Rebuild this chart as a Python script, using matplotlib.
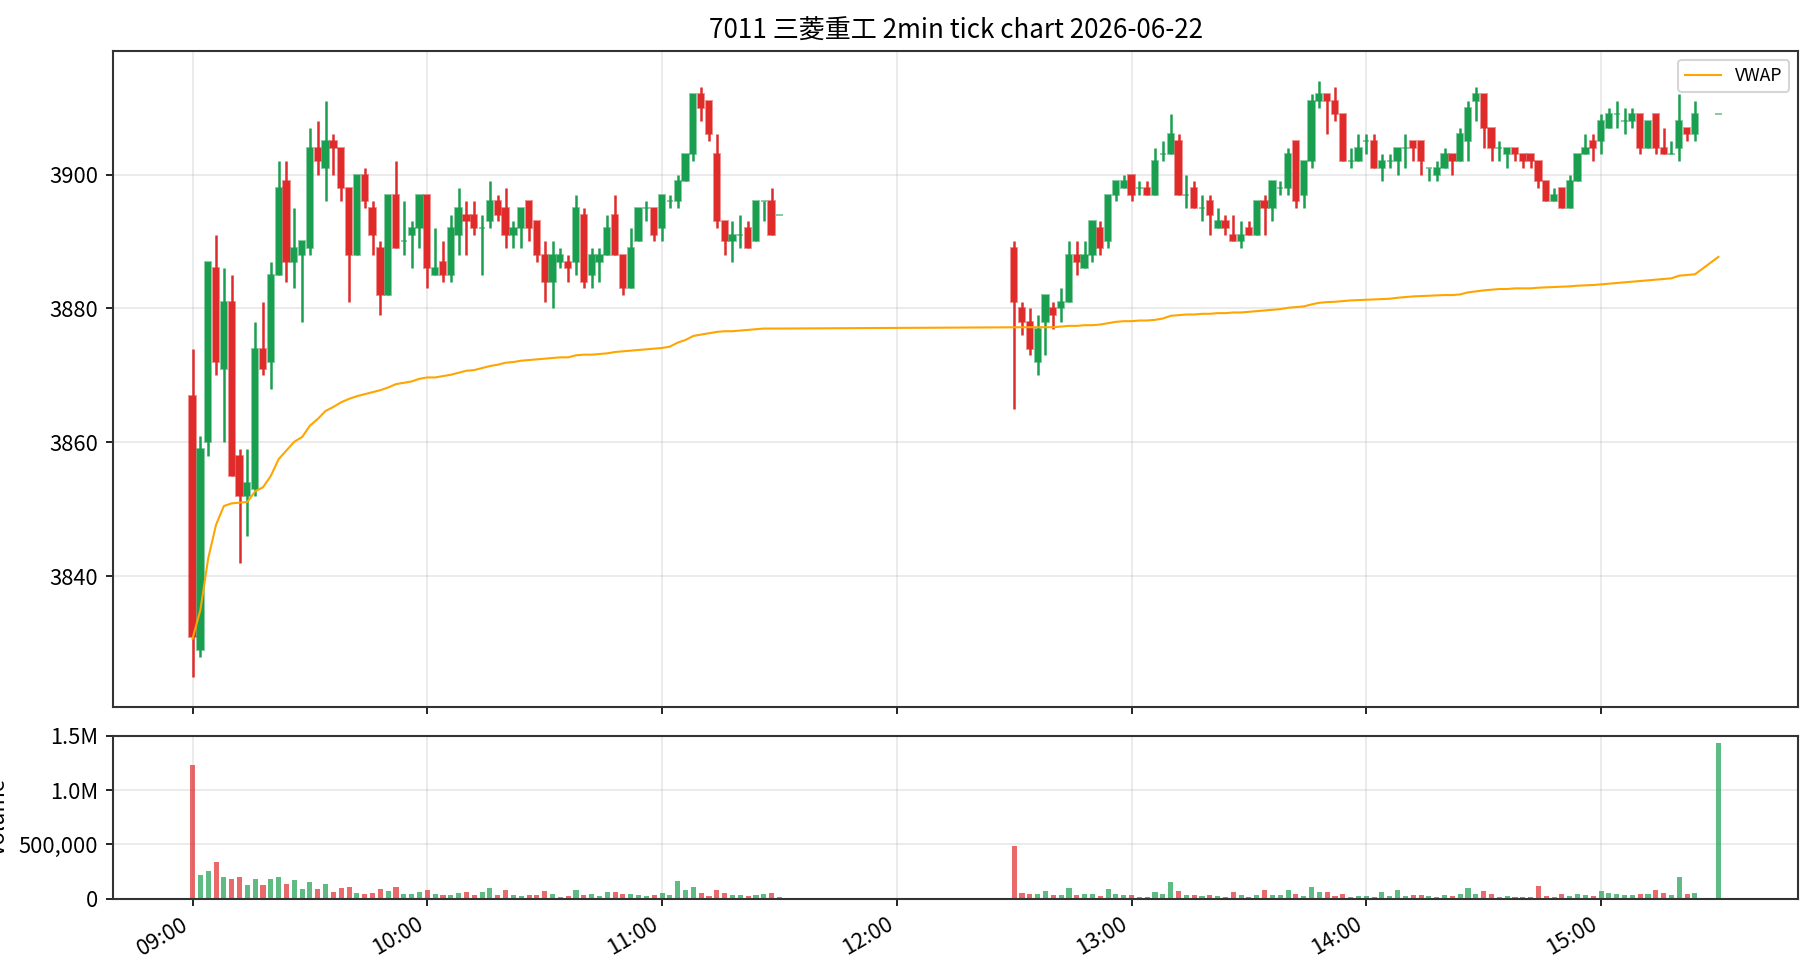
import matplotlib
matplotlib.use('Agg')
import matplotlib.pyplot as plt
import matplotlib.dates as mdates
import matplotlib.ticker as mticker
from matplotlib.colors import to_rgba
import numpy as np
import pandas as pd

plt.rcParams['font.family'] = ['Noto Sans CJK JP', 'DejaVu Sans']
plt.rcParams['xtick.labelsize'] = 10.5
plt.rcParams['ytick.labelsize'] = 10.5

TITLE = '7011 三菱重工 2min tick chart 2026-06-22'

# 2-minute bars: morning 09:00-11:30, afternoon 12:30-15:24, closing print 15:30
times = (list(pd.date_range('2026-06-22 09:00', '2026-06-22 11:30', freq='2min'))
         + list(pd.date_range('2026-06-22 12:30', '2026-06-22 15:24', freq='2min'))
         + [pd.Timestamp('2026-06-22 15:30')])

# morning session
am_open = [3867, 3829, 3860, 3886, 3871, 3881, 3858, 3852, 3853, 3874,
           3872, 3885, 3899, 3887, 3888, 3889, 3904, 3901, 3905, 3904,
           3898, 3888, 3900, 3895, 3889, 3882, 3897, 3890, 3891, 3892,
           3897, 3885, 3887, 3885, 3891, 3894, 3894, 3892, 3893, 3896,
           3895, 3891, 3892, 3896, 3893, 3888, 3884, 3887, 3887, 3887,
           3894, 3885, 3887, 3888, 3894, 3888, 3883, 3890, 3895, 3895,
           3892, 3896, 3896, 3899, 3903, 3912, 3911, 3903, 3893, 3890,
           3891, 3892, 3890, 3896, 3896, 3894]
am_high = [3874, 3861, 3887, 3891, 3886, 3885, 3859, 3859, 3878, 3881,
           3887, 3902, 3902, 3895, 3890, 3907, 3908, 3911, 3906, 3904,
           3898, 3900, 3901, 3896, 3890, 3897, 3902, 3896, 3893, 3897,
           3897, 3892, 3890, 3894, 3898, 3896, 3896, 3894, 3899, 3897,
           3898, 3893, 3895, 3896, 3893, 3890, 3890, 3889, 3888, 3897,
           3895, 3889, 3889, 3894, 3897, 3888, 3892, 3895, 3896, 3895,
           3897, 3897, 3900, 3903, 3912, 3913, 3911, 3906, 3893, 3893,
           3894, 3893, 3896, 3896, 3898, 3894]
am_low = [3825, 3828, 3858, 3870, 3860, 3855, 3842, 3846, 3852, 3870,
          3868, 3885, 3884, 3883, 3878, 3888, 3900, 3896, 3900, 3896,
          3881, 3888, 3895, 3888, 3879, 3882, 3889, 3888, 3886, 3889,
          3883, 3885, 3884, 3884, 3888, 3888, 3891, 3885, 3892, 3893,
          3889, 3889, 3889, 3890, 3887, 3881, 3880, 3886, 3884, 3885,
          3883, 3883, 3884, 3888, 3888, 3882, 3883, 3890, 3893, 3890,
          3890, 3895, 3895, 3899, 3902, 3908, 3905, 3892, 3888, 3887,
          3889, 3889, 3890, 3893, 3891, 3894]
am_close = [3831, 3859, 3887, 3872, 3881, 3855, 3852, 3854, 3874, 3871,
            3885, 3898, 3887, 3889, 3890, 3904, 3902, 3905, 3904, 3898,
            3888, 3900, 3896, 3891, 3882, 3897, 3889, 3890, 3892, 3897,
            3886, 3886, 3885, 3892, 3895, 3893, 3892, 3892, 3896, 3894,
            3891, 3892, 3895, 3892, 3888, 3884, 3888, 3888, 3886, 3895,
            3884, 3888, 3888, 3892, 3888, 3883, 3889, 3895, 3895, 3891,
            3897, 3896, 3899, 3903, 3912, 3910, 3906, 3893, 3890, 3891,
            3891, 3889, 3896, 3896, 3891, 3894]
am_volume = [1232, 216, 253, 335, 198, 180, 198, 125, 180, 125,
             180, 198, 134, 171, 88, 152, 88, 134, 61, 98,
             107, 52, 43, 52, 88, 70, 107, 43, 43, 61,
             79, 43, 34, 34, 52, 61, 34, 61, 98, 34,
             79, 34, 24, 34, 34, 70, 43, 15, 24, 79,
             34, 43, 24, 61, 61, 43, 43, 34, 24, 34,
             52, 34, 162, 79, 107, 52, 24, 79, 52, 34,
             34, 24, 34, 43, 52, 15]
am_vwap = [3830.7, 3835.0, 3842.7, 3847.7, 3850.5, 3850.9, 3851.0, 3851.1, 3852.7, 3853.3,
           3855.0, 3857.5, 3858.8, 3860.1, 3860.8, 3862.5, 3863.5, 3864.7, 3865.3, 3866.0,
           3866.5, 3866.9, 3867.2, 3867.5, 3867.8, 3868.2, 3868.7, 3868.9, 3869.1, 3869.5,
           3869.7, 3869.7, 3869.9, 3870.1, 3870.4, 3870.7, 3870.8, 3871.1, 3871.4, 3871.6,
           3871.9, 3872.0, 3872.2, 3872.3, 3872.4, 3872.5, 3872.6, 3872.7, 3872.7, 3873.0,
           3873.1, 3873.1, 3873.2, 3873.3, 3873.5, 3873.6, 3873.7, 3873.8, 3873.9, 3874.0,
           3874.1, 3874.3, 3874.9, 3875.3, 3875.9, 3876.1, 3876.3, 3876.5, 3876.6, 3876.6,
           3876.7, 3876.8, 3876.9, 3877.0, 3877.0, 3877.0]

# afternoon session (+ closing print)
pm_open = [3889, 3880, 3878, 3872, 3878, 3880, 3880, 3881, 3888, 3886,
           3888, 3892, 3890, 3897, 3898, 3900, 3898, 3898, 3897, 3903,
           3903, 3905, 3897, 3898, 3895, 3896, 3892, 3893, 3891, 3890,
           3892, 3891, 3896, 3895, 3898, 3898, 3905, 3897, 3902, 3911,
           3912, 3911, 3909, 3902, 3902, 3905, 3905, 3901, 3902, 3902,
           3904, 3905, 3905, 3901, 3900, 3901, 3903, 3902, 3905, 3911,
           3912, 3907, 3904, 3903, 3904, 3903, 3903, 3902, 3899, 3896,
           3898, 3895, 3899, 3903, 3905, 3905, 3907, 3909, 3908, 3908,
           3909, 3904, 3909, 3904, 3903, 3904, 3907, 3906, 3909]
pm_high = [3890, 3881, 3880, 3879, 3882, 3881, 3883, 3890, 3890, 3890,
           3893, 3893, 3897, 3899, 3900, 3900, 3899, 3899, 3904, 3905,
           3909, 3906, 3900, 3899, 3897, 3897, 3895, 3894, 3894, 3893,
           3893, 3896, 3897, 3899, 3899, 3904, 3905, 3902, 3912, 3914,
           3912, 3913, 3909, 3904, 3906, 3906, 3906, 3903, 3903, 3904,
           3906, 3905, 3905, 3901, 3902, 3904, 3903, 3907, 3911, 3913,
           3912, 3907, 3905, 3904, 3904, 3903, 3903, 3902, 3899, 3898,
           3898, 3900, 3903, 3906, 3906, 3909, 3910, 3911, 3910, 3910,
           3909, 3908, 3909, 3907, 3905, 3912, 3907, 3911, 3909]
pm_low = [3865, 3876, 3873, 3870, 3873, 3877, 3878, 3881, 3885, 3886,
          3887, 3888, 3889, 3896, 3898, 3896, 3897, 3897, 3897, 3902,
          3903, 3897, 3895, 3895, 3893, 3891, 3892, 3891, 3890, 3889,
          3891, 3891, 3891, 3893, 3897, 3897, 3895, 3895, 3901, 3910,
          3906, 3908, 3902, 3901, 3902, 3903, 3901, 3899, 3901, 3900,
          3901, 3902, 3900, 3899, 3899, 3901, 3900, 3902, 3902, 3908,
          3904, 3902, 3902, 3901, 3902, 3901, 3901, 3898, 3896, 3896,
          3895, 3895, 3899, 3903, 3902, 3903, 3907, 3907, 3906, 3907,
          3903, 3904, 3903, 3903, 3903, 3902, 3905, 3905, 3909]
pm_close = [3881, 3878, 3874, 3877, 3882, 3879, 3881, 3888, 3887, 3888,
            3893, 3889, 3897, 3899, 3899, 3897, 3898, 3897, 3902, 3903,
            3906, 3897, 3897, 3895, 3895, 3894, 3893, 3892, 3890, 3891,
            3891, 3896, 3895, 3899, 3898, 3903, 3896, 3902, 3911, 3912,
            3911, 3909, 3902, 3902, 3904, 3905, 3901, 3902, 3902, 3904,
            3904, 3904, 3902, 3901, 3901, 3903, 3902, 3906, 3910, 3912,
            3907, 3904, 3904, 3904, 3903, 3902, 3902, 3899, 3896, 3897,
            3895, 3899, 3903, 3904, 3904, 3908, 3909, 3909, 3908, 3909,
            3904, 3908, 3904, 3903, 3903, 3908, 3906, 3909, 3909]
pm_volume = [482, 52, 43, 43, 70, 34, 34, 98, 34, 43,
             43, 24, 88, 43, 34, 34, 15, 15, 61, 43,
             152, 70, 34, 34, 24, 34, 24, 15, 61, 34,
             15, 34, 79, 34, 34, 79, 43, 24, 107, 61,
             61, 24, 43, 15, 24, 24, 15, 61, 24, 79,
             24, 34, 34, 24, 15, 34, 24, 43, 98, 43,
             70, 43, 15, 24, 15, 15, 15, 116, 24, 15,
             43, 24, 43, 34, 24, 70, 52, 43, 34, 34,
             43, 43, 79, 52, 34, 198, 43, 52, 1433]
pm_vwap = [3877.2, 3877.2, 3877.2, 3877.2, 3877.2, 3877.2, 3877.3, 3877.4, 3877.4, 3877.5,
           3877.5, 3877.6, 3877.8, 3878.0, 3878.1, 3878.1, 3878.2, 3878.2, 3878.3, 3878.5,
           3878.9, 3879.0, 3879.1, 3879.1, 3879.2, 3879.2, 3879.3, 3879.3, 3879.4, 3879.4,
           3879.5, 3879.6, 3879.7, 3879.8, 3879.9, 3880.1, 3880.2, 3880.3, 3880.6, 3880.85,
           3880.95, 3881.0, 3881.1, 3881.2, 3881.25, 3881.3, 3881.35, 3881.4, 3881.45, 3881.6,
           3881.7, 3881.8, 3881.85, 3881.9, 3881.95, 3882.0, 3882.0, 3882.1, 3882.4, 3882.55,
           3882.7, 3882.8, 3882.9, 3882.9, 3883.0, 3883.0, 3883.0, 3883.1, 3883.15, 3883.2,
           3883.25, 3883.3, 3883.4, 3883.45, 3883.5, 3883.6, 3883.7, 3883.8, 3883.9, 3884.0,
           3884.1, 3884.2, 3884.3, 3884.4, 3884.5, 3884.9, 3885.0, 3885.1, 3887.7]

o = np.array(am_open + pm_open, dtype=float)
h = np.array(am_high + pm_high, dtype=float)
l = np.array(am_low + pm_low, dtype=float)
c = np.array(am_close + pm_close, dtype=float)
vol = np.array(am_volume + pm_volume, dtype=float) * 1000
vwap = np.array(am_vwap + pm_vwap)
x = mdates.date2num(times)

UP = '#1a9e4f'
DOWN = '#e02b2b'
colors = np.where(c >= o, UP, DOWN)
edges = [to_rgba(col, 0.55) for col in colors]
step = 2 / 1440  # 2 minutes in days

fig = plt.figure(figsize=(1820 / 150, 980 / 150), dpi=150)
ax = fig.add_axes([0.062, 0.279, 0.926, 0.669])
axv = fig.add_axes([0.062, 0.083, 0.926, 0.166], sharex=ax)

# candles
ax.vlines(x, l, h, colors=colors, linewidth=1.2, zorder=2)
ax.bar(x, np.abs(c - o), bottom=np.minimum(o, c), width=step * 0.8,
       color=colors, edgecolor=edges, linewidth=0.9, zorder=3)
ax.plot(x, vwap, color='orange', linewidth=1.0, label='VWAP', zorder=4)
ax.yaxis.set_major_locator(mticker.MultipleLocator(20))
ax.grid(True, alpha=0.3)
ax.set_axisbelow(True)
ax.legend(loc='upper right', fontsize=8.5)
ax.set_title(TITLE, fontsize=12.5)
ax.tick_params(labelbottom=False)

# volume
axv.bar(x, vol, width=step * 0.65, color=colors, alpha=0.7)
axv.set_ylim(0, 1.5e6)
axv.set_yticks([0, 5e5, 1e6, 1.5e6])
axv.yaxis.set_major_formatter(mticker.FuncFormatter(
    lambda v, p: f'{v / 1e6:.1f}M' if v >= 1e6 else f'{v:,.0f}'))
axv.set_ylabel('Volume', fontsize=10.5)
axv.grid(True, alpha=0.3)
axv.set_axisbelow(True)

axv.xaxis.set_major_locator(mdates.HourLocator())
axv.xaxis.set_major_formatter(mdates.DateFormatter('%H:%M'))
for lbl in axv.get_xticklabels():
    lbl.set_rotation(30)
    lbl.set_ha('right')

for a in (ax, axv):
    for s in a.spines.values():
        s.set_color('#333333')
        s.set_linewidth(1.0)

fig.savefig('out.png', dpi=150)
